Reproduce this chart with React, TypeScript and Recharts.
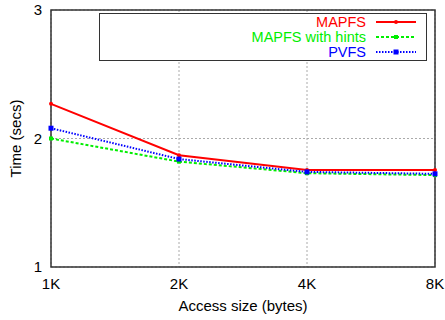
import React from 'react';
import { LineChart, Line, XAxis, YAxis, CartesianGrid, ReferenceArea } from 'recharts';

const sizes = ['1K', '2K', '4K', '8K'];
const mapfs = [2.27, 1.87, 1.755, 1.755];
const mapfsHints = [2.0, 1.82, 1.73, 1.715];
const pvfs = [2.08, 1.84, 1.74, 1.725];
const yTicks = [1, 2, 3];

const data = sizes.map((s, i) => ({ size: s, mapfs: mapfs[i], hints: mapfsHints[i], pvfs: pvfs[i] }));

const FONT = '"Liberation Sans", Arial, Helvetica, sans-serif';

const circleDot = (color: string, r: number) => (p: any) => (
  <circle key={`c-${p.index}`} cx={p.cx} cy={p.cy} r={r} fill={color} stroke="none" />
);
const squareDot = (color: string, s: number) => (p: any) => (
  <rect key={`s-${p.index}`} x={p.cx - s / 2} y={p.cy - s / 2} width={s} height={s} fill={color} stroke="none" />
);

const series = [
  { name: 'MAPFS', color: '#ff0000', dash: undefined as string | undefined, marker: 'circle' },
  { name: 'MAPFS with hints', color: '#00ee00', dash: '3 2', marker: 'square' },
  { name: 'PVFS', color: '#0000ff', dash: '1.5 1.5', marker: 'bigsquare' },
];

const LegendBox = () => (
  <svg width={328} height={48} style={{ display: 'block', fontFamily: FONT }}>
    <rect x={0.5} y={0.5} width={327} height={47} fill="#fff" stroke="#333" strokeWidth={1} />
    {series.map((s, i) => {
      const cy = 9 + i * 15;
      const sz = s.marker === 'bigsquare' ? 5 : 4;
      return (
        <g key={s.name}>
          <text x={267} y={cy} textAnchor="end" dominantBaseline="central" fontSize={14.5} fill={s.color}>
            {s.name}
          </text>
          <line x1={277} x2={317} y1={cy} y2={cy} stroke={s.color} strokeWidth={2} strokeDasharray={s.dash} />
          {s.marker === 'circle' ? (
            <circle cx={297} cy={cy} r={2} fill={s.color} />
          ) : (
            <rect x={297 - sz / 2} y={cy - sz / 2} width={sz} height={sz} fill={s.color} />
          )}
        </g>
      );
    })}
  </svg>
);

export default function App() {
  return (
    <div style={{ position: 'absolute', left: 0, top: 0, width: 445, height: 320, background: '#fff' }}>
      <LineChart width={445} height={320} data={data} margin={{ top: 10, right: 10, left: 0, bottom: 0 }}>
        <CartesianGrid stroke="#aaa" strokeDasharray="2 2" />
        <ReferenceArea x1="1K" x2="8K" y1={1} y2={3} fill="none" stroke="#333" strokeWidth={1.5} />
        <XAxis
          dataKey="size"
          height={53}
          tickSize={0}
          tickMargin={11}
          axisLine={false}
          tick={{ fontSize: 15, fill: '#000', fontFamily: FONT }}
          label={{ value: 'Access size (bytes)', position: 'insideBottom', offset: 9, fontSize: 15, fill: '#000', fontFamily: FONT }}
        />
        <YAxis
          type="number"
          domain={[1, 3]}
          ticks={yTicks}
          width={51}
          tickSize={0}
          tickMargin={9}
          axisLine={false}
          tick={{ fontSize: 15, fill: '#000', fontFamily: FONT }}
          label={{ value: 'Time (secs)', angle: -90, position: 'insideLeft', offset: 16, fontSize: 15, fill: '#000', fontFamily: FONT, style: { textAnchor: 'middle' } }}
        />
        <Line dataKey="mapfs" name="MAPFS" stroke="#ff0000" strokeWidth={2} dot={circleDot('#ff0000', 2)} isAnimationActive={false} />
        <Line dataKey="hints" name="MAPFS with hints" stroke="#00ee00" strokeWidth={2} strokeDasharray="3 2" dot={squareDot('#00ee00', 4)} isAnimationActive={false} />
        <Line dataKey="pvfs" name="PVFS" stroke="#0000ff" strokeWidth={2} strokeDasharray="1.5 1.5" dot={squareDot('#0000ff', 5)} isAnimationActive={false} />
      </LineChart>
      <div style={{ position: 'absolute', left: 99, top: 13 }}>
        <LegendBox />
      </div>
    </div>
  );
}
